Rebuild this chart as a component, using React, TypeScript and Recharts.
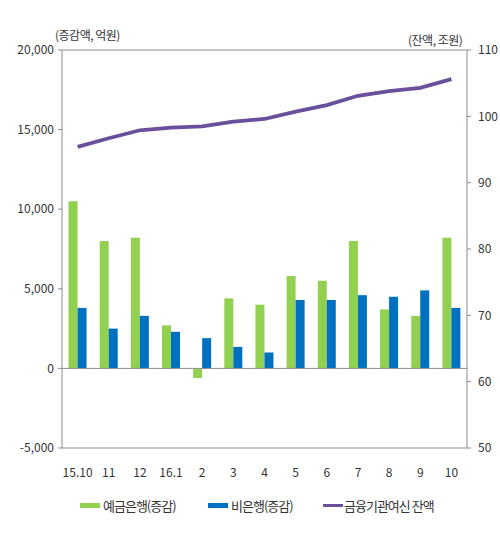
import React from 'react'
import { ComposedChart, Bar, Line, XAxis, YAxis, ReferenceLine } from 'recharts'

const months = ['15.10', '11', '12', '16.1', '2', '3', '4', '5', '6', '7', '8', '9', '10']
const depositBanks = [10500, 8000, 8200, 2700, -600, 4400, 4000, 5800, 5500, 8000, 3700, 3300, 8200]
const nonBanks = [3800, 2500, 3300, 2300, 1900, 1350, 1000, 4300, 4300, 4600, 4500, 4900, 3800]
const totalBalance = [95.4, 96.7, 97.9, 98.3, 98.5, 99.2, 99.6, 100.7, 101.7, 103.1, 103.8, 104.3, 105.6]

const leftTicks = [-5000, 0, 5000, 10000, 15000, 20000]
const rightTicks = [50, 60, 70, 80, 90, 100, 110]

const GREEN = '#92d050'
const BLUE = '#0070c0'
const PURPLE = '#6a4f9c'
const AXIS = '#8c8c8c'
const FONT = '"Noto Sans CJK KR", sans-serif'

const data = months.map((m, i) => ({
  m,
  deposit: depositBanks[i],
  nonBank: nonBanks[i],
  balance: totalBalance[i],
}))

const tickStyle = { fontSize: 12, fill: '#333', fontFamily: FONT }
const legendText = { fontSize: 13, letterSpacing: -1 }

export default function App() {
  return (
    <div style={{ position: 'absolute', left: 0, top: 0, width: 500, height: 533, fontFamily: FONT, color: '#333' }}>
      <ComposedChart width={500} height={533} data={data} margin={{ top: 50, right: 0, left: 0, bottom: 55 }} barGap={0} barCategoryGap="21%">
        <XAxis
          dataKey="m"
          height={30}
          tickLine={false}
          tickSize={0}
          tickMargin={20}
          axisLine={{ stroke: AXIS }}
          tick={tickStyle}
          interval={0}
        />
        <YAxis
          yAxisId="left"
          width={62}
          domain={[-5000, 20000]}
          ticks={leftTicks}
          tickFormatter={(v: number) => v.toLocaleString('en-US')}
          tick={tickStyle}
          tickSize={4}
          tickMargin={4}
          axisLine={{ stroke: AXIS }}
          tickLine={{ stroke: AXIS }}
        />
        <YAxis
          yAxisId="right"
          orientation="right"
          width={33}
          domain={[50, 110]}
          ticks={rightTicks}
          tick={{ ...tickStyle, textAnchor: 'start' }}
          tickSize={4}
          tickMargin={7}
          axisLine={{ stroke: AXIS }}
          tickLine={{ stroke: AXIS }}
        />
        <ReferenceLine yAxisId="left" y={20000} stroke={AXIS} />
        <ReferenceLine yAxisId="left" y={0} stroke={AXIS} />
        <Bar yAxisId="left" dataKey="deposit" fill={GREEN} isAnimationActive={false} />
        <Bar yAxisId="left" dataKey="nonBank" fill={BLUE} isAnimationActive={false} />
        <Line
          yAxisId="right"
          dataKey="balance"
          stroke={PURPLE}
          strokeWidth={3.8}
          dot={false}
          type="linear"
          isAnimationActive={false}
        />
      </ComposedChart>

      <div style={{ position: 'absolute', left: 55, top: 26, fontSize: 12, letterSpacing: -0.5 }}>(증감액, 억원)</div>
      <div style={{ position: 'absolute', left: 408, top: 31, fontSize: 12, letterSpacing: -0.5 }}>(잔액, 조원)</div>

      <div style={{ position: 'absolute', left: 80, top: 496, display: 'flex', alignItems: 'center' }}>
        <span style={{ display: 'inline-block', width: 20, height: 5, background: GREEN, marginRight: 3 }} />
        <span style={legendText}>예금은행(증감)</span>
      </div>
      <div style={{ position: 'absolute', left: 208, top: 496, display: 'flex', alignItems: 'center' }}>
        <span style={{ display: 'inline-block', width: 20, height: 5, background: BLUE, marginRight: 3 }} />
        <span style={legendText}>비은행(증감)</span>
      </div>
      <div style={{ position: 'absolute', left: 323, top: 496, display: 'flex', alignItems: 'center' }}>
        <span style={{ display: 'inline-block', width: 20, height: 3, background: PURPLE, marginRight: 1 }} />
        <span style={legendText}>금융기관여신 잔액</span>
      </div>
    </div>
  )
}
